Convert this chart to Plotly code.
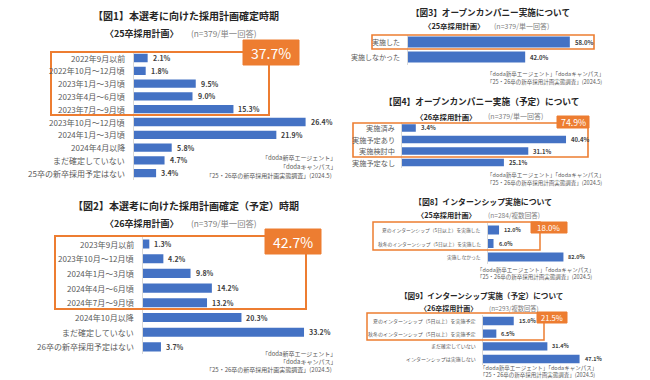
import plotly.graph_objects as go

W, H = 650, 380
FONT = "Noto Sans CJK JP"
BLUE = "#4472C4"
ORANGE = "#ED7D31"
TXT = "#404040"

# ---------------- data ----------------
fig1_cats = ["2022年9月以前", "2022年10月～12月頃", "2023年1月～3月頃", "2023年4月～6月頃",
             "2023年7月～9月頃", "2023年10月～12月頃", "2024年1月～3月頃", "2024年4月以降",
             "まだ確定していない", "25卒の新卒採用予定はない"]
fig1_vals = [2.1, 1.8, 9.5, 9.0, 15.3, 26.4, 21.9, 5.8, 4.7, 3.4]

fig2_cats = ["2023年9月以前", "2023年10月～12月頃", "2024年1月～3月頃", "2024年4月～6月頃",
             "2024年7月～9月頃", "2024年10月以降", "まだ確定していない", "26卒の新卒採用予定はない"]
fig2_vals = [1.3, 4.2, 9.8, 14.2, 13.2, 20.3, 33.2, 3.7]

fig3_cats = ["実施した", "実施しなかった"]
fig3_vals = [58.0, 42.0]

fig4_cats = ["実施済み", "実施予定あり", "実施検討中", "実施予定なし"]
fig4_vals = [3.4, 40.4, 31.1, 25.1]

fig8_cats = ["夏のインターンシップ（5日以上）を実施した", "秋冬のインターンシップ（5日以上）を実施した",
             "実施しなかった"]
fig8_vals = [12.0, 6.0, 82.0]

fig9_cats = ["夏のインターンシップ（5日以上）を実施予定", "秋冬のインターンシップ（5日以上）を実施予定",
             "まだ確定していない", "インターンシップは実施しない"]
fig9_vals = [15.0, 6.5, 31.4, 47.1]

badge_texts = ["37.7%", "42.7%", "74.9%", "18.0%", "21.5%"]

titles = ["【図1】本選考に向けた採用計画確定時期",
          "【図2】本選考に向けた採用計画確定（予定）時期",
          "【図3】オープンカンパニー実施について",
          "【図4】オープンカンパニー実施（予定）について",
          "【図8】インターンシップ実施について",
          "【図9】インターンシップ実施（予定）について"]
subtitles = ["〈25卒採用計画〉", "〈26卒採用計画〉", "〈25卒採用計画〉",
             "〈26卒採用計画〉", "〈25卒採用計画〉", "〈26卒採用計画〉"]
notes = ["(n=379/単一回答)", "(n=379/単一回答)", "(n=379/単一回答)",
         "(n=379/単一回答)", "(n=284/複数回答)", "(n=293/複数回答)"]
src_a = "「doda新卒エージェント」"
src_b = "「dodaキャンパス」"
src_c = "「25・26卒の新卒採用計画実態調査」(2024.5)"

# ---------------- helpers ----------------
def px(x):
    return x / W

def py(y):
    return 1 - y / H

fig = go.Figure()
annotations = []
shapes = []

panels = [
    dict(cats=fig1_cats, vals=fig1_vals, base=134, ppu=6.5, R=30, c0=58, sp=12.8, bw=0.65, lf=8, vf=7, gap=7),
    dict(cats=fig2_cats, vals=fig2_vals, base=143, ppu=4.85, R=35, c0=244, sp=14.7, bw=0.62, lf=8, vf=7, gap=7),
    dict(cats=fig3_cats, vals=fig3_vals, base=408, ppu=2.79, R=70, c0=42, sp=15, bw=0.73, lf=7, vf=6, gap=6),
    dict(cats=fig4_cats, vals=fig4_vals, base=402, ppu=4.06, R=50, c0=128, sp=11.5, bw=0.64, lf=7.2, vf=6, gap=5),
    dict(cats=fig8_cats, vals=fig8_vals, base=488, ppu=0.92, R=100, c0=230, sp=13.5, bw=0.67, lf=4.8, vf=5.5, gap=5),
    dict(cats=fig9_cats, vals=fig9_vals, base=483, ppu=2.05, R=60, c0=321, sp=12.67, bw=0.66, lf=5.0, vf=5.5, gap=5),
]

layout_axes = {}
for i, p in enumerate(panels):
    k = "" if i == 0 else str(i + 1)
    n = len(p["cats"])
    x0 = p["base"]
    x1 = p["base"] + p["R"] * p["ppu"]
    top = p["c0"] - p["sp"] / 2
    bot = p["c0"] + p["sp"] * (n - 1) + p["sp"] / 2
    fig.add_trace(go.Bar(
        x=p["vals"], y=p["cats"], orientation="h",
        marker=dict(color=BLUE, line=dict(width=0)),
        width=p["bw"], xaxis="x" + k, yaxis="y" + k,
        hoverinfo="skip", showlegend=False,
    ))
    layout_axes["xaxis" + k] = dict(domain=[px(x0), px(x1)], range=[0, p["R"]],
                                    visible=False, anchor="y" + k, fixedrange=True)
    layout_axes["yaxis" + k] = dict(domain=[py(bot), py(top)], range=[n - 0.5, -0.5],
                                    type="category", showticklabels=False, showgrid=False,
                                    zeroline=False, showline=True, linecolor="#d9d9d9",
                                    linewidth=1, anchor="x" + k, fixedrange=True)
    for c, v in zip(p["cats"], p["vals"]):
        annotations.append(dict(xref="paper", yref="y" + k, x=px(x0 - p["gap"]), y=c,
                                text=c, showarrow=False, xanchor="right", yanchor="middle",
                                font=dict(family=FONT, size=p["lf"], color="#595959")))
        annotations.append(dict(xref="x" + k, yref="y" + k, x=v, y=c, xshift=3,
                                text="<b>%.1f%%</b>" % v, showarrow=False,
                                xanchor="left", yanchor="middle",
                                font=dict(family=FONT, size=p["vf"], color=TXT)))

# titles: (center x, title y, title size, subtitle y, sub right x, sub size, note left x, note size)
title_pos = [
    (186, 15, 10, 33, 181, 9, 189, 8.3),
    (186, 205, 10, 223, 181, 9, 189, 8.3),
    (490, 12, 8.6, 26, 486, 7.4, 492, 7),
    (481, 102, 8.7, 116, 478, 7.4, 486, 7),
    (483, 201, 7.9, 215, 478, 7.2, 486, 6.6),
    (481, 295, 7.6, 308, 479, 7, 487, 6.3),
]
for t, s, nt, (cx, ty, ts, sy, sx, ss, nx, ns) in zip(titles, subtitles, notes, title_pos):
    annotations.append(dict(xref="paper", yref="paper", x=px(cx), y=py(ty), text="<b>" + t + "</b>",
                            showarrow=False, xanchor="center", yanchor="middle",
                            font=dict(family=FONT, size=ts, color="#262626")))
    annotations.append(dict(xref="paper", yref="paper", x=px(sx), y=py(sy), text="<b>" + s + "</b>",
                            showarrow=False, xanchor="right", yanchor="middle",
                            font=dict(family=FONT, size=ss, color="#262626")))
    annotations.append(dict(xref="paper", yref="paper", x=px(nx), y=py(sy), text=nt,
                            showarrow=False, xanchor="left", yanchor="middle",
                            font=dict(family=FONT, size=ns, color="#7f7f7f")))

# sources (one annotation per line)
def src(x, y, text, anchor, size):
    annotations.append(dict(xref="paper", yref="paper", x=px(x), y=py(y), text=text,
                            showarrow=False, xanchor=anchor, yanchor="middle", borderpad=0,
                            font=dict(family=FONT, size=size, color="#595959")))

for (y1, y2, y3) in [(157, 166, 175), (353, 361, 369)]:
    src(337, y1, src_a, "right", 6)
    src(337, y2, src_b, "right", 6)
    src(333, y3, src_c, "right", 6)
for (xx, y1, y2) in [(486, 74, 82), (486, 175, 182.5), (476, 270, 277), (479, 368, 375)]:
    src(xx, y1, src_a + src_b, "left", 5.5)
    src(xx, y2, src_c, "left", 5.5)

# orange outline boxes
boxes = [(51, 52, 269, 115, 2), (55, 236, 306, 309, 2), (372, 35, 594, 49, 1.6),
         (353, 123, 588, 157, 1.6), (373, 222, 540, 250, 1.5), (367, 313, 544, 340, 1.5)]
for (a, b, c, d, lw) in boxes:
    shapes.append(dict(type="rect", xref="paper", yref="paper", x0=px(a), x1=px(c),
                       y0=py(d), y1=py(b), line=dict(color=ORANGE, width=lw),
                       fillcolor="rgba(0,0,0,0)"))

# badges
badges = [(243, 40, 299, 65, 14), (265, 229, 321, 254, 14), (557, 116, 589, 128, 8.8),
          (531, 222, 567, 233, 8), (537, 312, 567, 323, 7.6)]
for (a, b, c, d, fs), txt in zip(badges, badge_texts):
    shapes.append(dict(type="rect", xref="paper", yref="paper", x0=px(a), x1=px(c),
                       y0=py(d), y1=py(b), line=dict(color=ORANGE, width=1),
                       fillcolor=ORANGE))
    annotations.append(dict(xref="paper", yref="paper", x=px((a + c) / 2), y=py((b + d) / 2),
                            text=txt, showarrow=False, xanchor="center", yanchor="middle",
                            font=dict(family=FONT, size=fs, color="white")))

fig.update_layout(
    width=W, height=H,
    margin=dict(l=0, r=0, t=0, b=0),
    paper_bgcolor="white", plot_bgcolor="rgba(0,0,0,0)",
    font=dict(family=FONT),
    annotations=annotations, shapes=shapes,
    bargap=0.3,
    **layout_axes,
)

fig.write_html("out.html", config={"displayModeBar": False},
               post_script="document.body.style.margin='0px';document.body.style.overflow='hidden';")
